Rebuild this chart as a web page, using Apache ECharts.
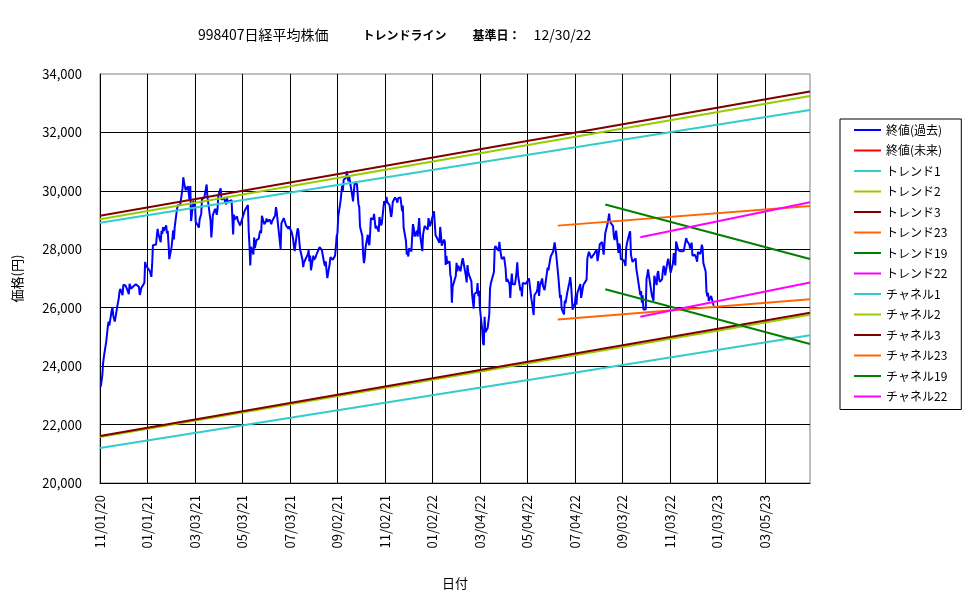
<!DOCTYPE html>
<html>
<head>
<meta charset="utf-8">
<script src="https://cdn.jsdelivr.net/npm/echarts@6/dist/echarts.min.js"></script>
<style>
html, body { margin: 0; padding: 0; background: #fff; }
#main { width: 975px; height: 599px; }
</style>
</head>
<body>
<div id="main"></div>
<script>
// 終値（過去）
var closeData = [
['2020-11-02',23295],['2020-11-04',23695],['2020-11-05',24105],['2020-11-06',24325],['2020-11-09',24839],['2020-11-10',24905],
['2020-11-11',25349],['2020-11-12',25520],['2020-11-13',25385],['2020-11-16',25906],['2020-11-17',26014],['2020-11-18',25728],
['2020-11-19',25634],['2020-11-20',25527],['2020-11-24',26165],['2020-11-25',26296],['2020-11-26',26537],['2020-11-27',26644],
['2020-11-30',26433],['2020-12-01',26787],['2020-12-02',26800],['2020-12-03',26809],['2020-12-04',26751],['2020-12-07',26547],
['2020-12-08',26467],['2020-12-09',26817],['2020-12-10',26756],['2020-12-11',26652],['2020-12-14',26732],['2020-12-15',26687],
['2020-12-16',26757],['2020-12-17',26806],['2020-12-18',26763],['2020-12-21',26714],['2020-12-22',26436],['2020-12-23',26524],
['2020-12-24',26668],['2020-12-25',26656],['2020-12-28',26854],['2020-12-29',27568],['2020-12-30',27444],
['2021-01-04',27258],['2021-01-05',27158],['2021-01-06',27056],['2021-01-07',27490],['2021-01-08',28139],['2021-01-12',28164],
['2021-01-13',28456],['2021-01-14',28698],['2021-01-15',28519],['2021-01-18',28242],['2021-01-19',28633],['2021-01-20',28523],
['2021-01-21',28756],['2021-01-22',28631],['2021-01-25',28822],['2021-01-26',28546],['2021-01-27',28635],['2021-01-28',28197],
['2021-01-29',27663],['2021-02-01',28091],['2021-02-02',28362],['2021-02-03',28646],['2021-02-04',28341],['2021-02-05',28779],
['2021-02-08',29388],['2021-02-09',29505],['2021-02-10',29562],['2021-02-12',29520],['2021-02-15',30084],['2021-02-16',30467],
['2021-02-17',30292],['2021-02-18',30236],['2021-02-19',30017],['2021-02-22',30156],['2021-02-24',29671],['2021-02-25',30168],
['2021-02-26',28966],['2021-03-01',29663],['2021-03-02',29408],['2021-03-03',29559],['2021-03-04',28930],['2021-03-05',28864],
['2021-03-08',28743],['2021-03-09',29027],['2021-03-10',29036],['2021-03-11',29211],['2021-03-12',29717],['2021-03-15',29766],
['2021-03-16',29921],['2021-03-17',29914],['2021-03-18',30216],['2021-03-19',29792],['2021-03-22',29174],['2021-03-23',28995],
['2021-03-24',28405],['2021-03-25',28729],['2021-03-26',29176],['2021-03-29',29384],['2021-03-30',29432],['2021-03-31',29178],
['2021-04-01',29388],['2021-04-02',29854],['2021-04-05',30089],['2021-04-06',29696],['2021-04-07',29730],['2021-04-08',29708],
['2021-04-09',29768],['2021-04-12',29538],['2021-04-13',29751],['2021-04-14',29620],['2021-04-15',29642],['2021-04-16',29683],
['2021-04-19',29685],['2021-04-20',29100],['2021-04-21',28508],['2021-04-22',29188],['2021-04-23',29020],['2021-04-26',29126],
['2021-04-27',28991],['2021-04-28',29053],['2021-04-30',28812],['2021-05-06',29331],['2021-05-07',29357],['2021-05-10',29518],
['2021-05-11',28608],['2021-05-12',28147],['2021-05-13',27448],['2021-05-14',28084],['2021-05-17',27824],['2021-05-18',28406],
['2021-05-19',28044],['2021-05-20',28098],['2021-05-21',28317],['2021-05-24',28364],['2021-05-25',28553],['2021-05-26',28642],
['2021-05-27',28549],['2021-05-28',29149],['2021-05-31',28860],['2021-06-01',28814],['2021-06-02',28946],['2021-06-03',29058],
['2021-06-04',28941],['2021-06-07',29019],['2021-06-08',28963],['2021-06-09',28860],['2021-06-10',28958],['2021-06-11',28948],
['2021-06-14',29161],['2021-06-15',29441],['2021-06-16',29291],['2021-06-17',29018],['2021-06-18',28964],['2021-06-21',28010],
['2021-06-22',28884],['2021-06-23',28874],['2021-06-24',28875],['2021-06-25',29066],['2021-06-28',28812],['2021-06-29',28812],
['2021-06-30',28791],['2021-07-01',28707],['2021-07-02',28783],['2021-07-05',28598],['2021-07-06',28643],['2021-07-07',28366],
['2021-07-08',28118],['2021-07-09',27940],['2021-07-12',28569],['2021-07-13',28718],['2021-07-14',28608],['2021-07-15',28279],
['2021-07-16',28003],['2021-07-19',27652],['2021-07-20',27388],['2021-07-21',27548],['2021-07-26',27833],['2021-07-27',27970],
['2021-07-28',27581],['2021-07-29',27782],['2021-07-30',27283],['2021-08-02',27781],['2021-08-03',27641],['2021-08-04',27584],
['2021-08-05',27728],['2021-08-06',27820],['2021-08-10',28070],['2021-08-11',28070],['2021-08-12',28015],['2021-08-13',27977],
['2021-08-16',27523],['2021-08-17',27424],['2021-08-18',27585],['2021-08-19',27281],['2021-08-20',27013],['2021-08-23',27494],
['2021-08-24',27732],['2021-08-25',27724],['2021-08-26',27742],['2021-08-27',27641],['2021-08-30',27789],['2021-08-31',28089],
['2021-09-01',28451],['2021-09-02',28543],['2021-09-03',29128],['2021-09-06',29659],['2021-09-07',29916],['2021-09-08',30181],
['2021-09-09',30008],['2021-09-10',30381],['2021-09-13',30447],['2021-09-14',30670],['2021-09-15',30511],['2021-09-16',30323],
['2021-09-17',30500],['2021-09-21',29839],['2021-09-22',29639],['2021-09-24',30248],['2021-09-27',30240],['2021-09-28',30183],
['2021-09-29',29544],['2021-09-30',29452],['2021-10-01',28771],['2021-10-04',28444],['2021-10-05',27822],['2021-10-06',27528],
['2021-10-07',27678],['2021-10-08',28048],['2021-10-11',28498],['2021-10-12',28230],['2021-10-13',28140],['2021-10-14',28550],
['2021-10-15',29068],['2021-10-18',29025],['2021-10-19',29215],['2021-10-20',29255],['2021-10-21',28708],['2021-10-22',28804],
['2021-10-25',28600],['2021-10-26',29106],['2021-10-27',29098],['2021-10-28',28820],['2021-10-29',28892],['2021-11-01',29647],
['2021-11-02',29520],['2021-11-04',29794],['2021-11-05',29611],['2021-11-08',29507],['2021-11-09',29285],['2021-11-10',29106],
['2021-11-11',29277],['2021-11-12',29609],['2021-11-15',29776],['2021-11-16',29808],['2021-11-17',29688],['2021-11-18',29598],
['2021-11-19',29745],['2021-11-22',29774],['2021-11-24',29302],['2021-11-25',29499],['2021-11-26',28751],['2021-11-29',28283],
['2021-11-30',27821],['2021-12-01',27935],['2021-12-02',27753],['2021-12-03',28029],['2021-12-06',27927],['2021-12-07',28455],
['2021-12-08',28860],['2021-12-09',28725],['2021-12-10',28437],['2021-12-13',28640],['2021-12-14',28432],['2021-12-15',28459],
['2021-12-16',29066],['2021-12-17',28545],['2021-12-20',27937],['2021-12-21',28517],['2021-12-22',28562],['2021-12-23',28798],
['2021-12-24',28782],['2021-12-27',28676],['2021-12-28',29069],['2021-12-29',28906],['2021-12-30',28791],
['2022-01-04',29301],['2022-01-05',29332],['2022-01-06',28487],['2022-01-07',28479],['2022-01-11',28222],['2022-01-12',28765],
['2022-01-13',28489],['2022-01-14',28124],['2022-01-17',28333],['2022-01-18',28257],['2022-01-19',27467],['2022-01-20',27772],
['2022-01-21',27522],['2022-01-24',27588],['2022-01-25',27131],['2022-01-26',27011],['2022-01-27',26170],['2022-01-28',26717],
['2022-01-31',27002],['2022-02-01',27078],['2022-02-02',27533],['2022-02-03',27241],['2022-02-04',27440],['2022-02-07',27249],
['2022-02-08',27285],['2022-02-09',27580],['2022-02-10',27696],['2022-02-14',27080],['2022-02-15',26866],['2022-02-16',27460],
['2022-02-17',27233],['2022-02-18',27122],['2022-02-21',26911],['2022-02-22',26450],['2022-02-24',25971],['2022-02-25',26476],
['2022-02-28',26527],['2022-03-01',26844],['2022-03-02',26393],['2022-03-03',26578],['2022-03-04',25985],['2022-03-07',25221],
['2022-03-08',24791],['2022-03-09',24718],['2022-03-10',25690],['2022-03-11',25163],['2022-03-14',25308],['2022-03-15',25346],
['2022-03-16',25762],['2022-03-17',26652],['2022-03-18',26827],['2022-03-22',27224],['2022-03-23',28040],['2022-03-24',28110],
['2022-03-25',28150],['2022-03-28',27943],['2022-03-29',28252],['2022-03-30',28027],['2022-03-31',27821],['2022-04-01',27666],
['2022-04-04',27736],['2022-04-05',27787],['2022-04-06',27350],['2022-04-07',26888],['2022-04-08',26985],['2022-04-11',26821],
['2022-04-12',26335],['2022-04-13',26843],['2022-04-14',27172],['2022-04-15',26799],['2022-04-18',26799],['2022-04-19',26985],
['2022-04-20',27218],['2022-04-21',27553],['2022-04-22',27105],['2022-04-25',26590],['2022-04-26',26700],['2022-04-27',26386],
['2022-04-28',26847],['2022-05-02',26818],['2022-05-06',27003],['2022-05-09',26319],['2022-05-10',26167],['2022-05-11',26213],
['2022-05-12',25748],['2022-05-13',26427],['2022-05-16',26547],['2022-05-17',26659],['2022-05-18',26911],['2022-05-19',26402],
['2022-05-20',26739],['2022-05-23',27001],['2022-05-24',26748],['2022-05-25',26677],['2022-05-26',26604],['2022-05-27',26781],
['2022-05-30',27369],['2022-05-31',27279],['2022-06-01',27457],['2022-06-02',27413],['2022-06-03',27761],['2022-06-06',27915],
['2022-06-07',27943],['2022-06-08',28234],['2022-06-09',28246],['2022-06-10',27824],['2022-06-13',26987],['2022-06-14',26629],
['2022-06-15',26326],['2022-06-16',26431],['2022-06-17',25963],['2022-06-20',25771],['2022-06-21',26246],['2022-06-22',26149],
['2022-06-23',26171],['2022-06-24',26491],['2022-06-27',26871],['2022-06-28',27049],['2022-06-29',26804],['2022-06-30',26393],
['2022-07-01',25935],['2022-07-04',26153],['2022-07-05',26423],['2022-07-06',26107],['2022-07-07',26490],['2022-07-08',26517],
['2022-07-11',26812],['2022-07-12',26336],['2022-07-13',26478],['2022-07-14',26643],['2022-07-15',26788],['2022-07-19',26961],
['2022-07-20',27680],['2022-07-21',27803],['2022-07-22',27914],['2022-07-25',27699],['2022-07-26',27655],['2022-07-27',27715],
['2022-07-28',27815],['2022-07-29',27801],['2022-08-01',27993],['2022-08-02',27594],['2022-08-03',27741],['2022-08-04',27932],
['2022-08-05',28175],['2022-08-08',28249],['2022-08-09',27999],['2022-08-10',27819],['2022-08-12',28546],['2022-08-15',28871],
['2022-08-16',28868],['2022-08-17',29222],['2022-08-18',28942],['2022-08-19',28930],['2022-08-22',28794],['2022-08-23',28452],
['2022-08-24',28313],['2022-08-25',28479],['2022-08-26',28641],['2022-08-29',27878],['2022-08-30',28195],['2022-08-31',28091],
['2022-09-01',27661],['2022-09-02',27650],['2022-09-05',27619],['2022-09-06',27626],['2022-09-07',27430],['2022-09-08',28065],
['2022-09-09',28214],['2022-09-12',28542],['2022-09-13',28614],['2022-09-14',27818],['2022-09-15',27875],['2022-09-16',27567],
['2022-09-20',27688],['2022-09-21',27313],['2022-09-22',27153],['2022-09-26',26431],['2022-09-27',26571],['2022-09-28',26173],
['2022-09-29',26422],['2022-09-30',25937],['2022-10-03',25936],['2022-10-04',26992],['2022-10-05',27120],['2022-10-06',27311],
['2022-10-07',27116],['2022-10-11',26401],['2022-10-12',26397],['2022-10-13',26237],['2022-10-14',27090],['2022-10-17',26775],
['2022-10-18',27156],['2022-10-19',27257],['2022-10-20',27006],['2022-10-21',26891],['2022-10-24',26974],['2022-10-25',27250],
['2022-10-26',27432],['2022-10-27',27345],['2022-10-28',27105],['2022-10-31',27587],['2022-11-01',27678],['2022-11-02',27663],
['2022-11-04',27199],['2022-11-07',27527],['2022-11-08',27872],['2022-11-09',27716],['2022-11-10',27446],['2022-11-11',28263],
['2022-11-14',27963],['2022-11-15',27990],['2022-11-16',28028],['2022-11-17',27930],['2022-11-18',27899],['2022-11-21',27944],
['2022-11-22',28115],['2022-11-24',28383],['2022-11-25',28283],['2022-11-28',28162],['2022-11-29',28027],['2022-11-30',27968],
['2022-12-01',28226],['2022-12-02',27777],['2022-12-05',27820],['2022-12-06',27885],['2022-12-07',27686],['2022-12-08',27574],
['2022-12-09',27901],['2022-12-12',27842],['2022-12-13',27954],['2022-12-14',28156],['2022-12-15',28051],['2022-12-16',27527],
['2022-12-19',27237],['2022-12-20',26568],['2022-12-21',26387],['2022-12-22',26507],['2022-12-23',26235],['2022-12-26',26405],
['2022-12-27',26447],['2022-12-28',26340],['2022-12-29',26093],['2022-12-30',26095]
];
// 終値（未来）: なし
var futureData = [];

// トレンドライン・チャネル（始点, 終点）
var trend1 = [['2020-11-01', 28910], ['2023-05-02', 32770]];
var trend2 = [['2020-11-01', 29030], ['2023-05-02', 33250]];
var trend3 = [['2020-11-01', 29150], ['2023-05-02', 33400]];
var trend23 = [['2022-06-12', 28810], ['2023-05-02', 29480]];
var trend19 = [['2022-08-12', 29530], ['2023-05-02', 27670]];
var trend22 = [['2022-09-26', 28410], ['2023-05-02', 29610]];
var channel1 = [['2020-11-01', 21200], ['2023-05-02', 25060]];
var channel2 = [['2020-11-01', 21570], ['2023-05-02', 25760]];
var channel3 = [['2020-11-01', 21610], ['2023-05-02', 25830]];
var channel23 = [['2022-06-12', 25600], ['2023-05-02', 26290]];
var channel19 = [['2022-08-12', 26630], ['2023-05-02', 24760]];
var channel22 = [['2022-09-26', 25690], ['2023-05-02', 26860]];

var seriesNames = ['終値(過去)', '終値(未来)', 'トレンド1', 'トレンド2', 'トレンド3', 'トレンド23', 'トレンド19', 'トレンド22',
    'チャネル1', 'チャネル2', 'チャネル3', 'チャネル23', 'チャネル19', 'チャネル22'];
var seriesData = [closeData, futureData, trend1, trend2, trend3, trend23, trend19, trend22,
    channel1, channel2, channel3, channel23, channel19, channel22];
var seriesColors = ['#0000FF', '#FF0000', '#33CCCC', '#99CC00', '#800000', '#FF6600', '#008000', '#FF00FF',
    '#33CCCC', '#99CC00', '#800000', '#FF6600', '#008000', '#FF00FF'];

// x軸: 2020-11-01 からの日数
var axisStart = '2020-11-01';
var axisEnd = '2023-05-02';
var tickDays = 61;

function dayNum(s) {
    var p = s.split('-');
    var a = axisStart.split('-');
    return (Date.UTC(+p[0], +p[1] - 1, +p[2]) - Date.UTC(+a[0], +a[1] - 1, +a[2])) / 86400000;
}
function pad(n) { return (n < 10 ? '0' : '') + n; }
function dayLabel(v) {
    var a = axisStart.split('-');
    var d = new Date(Date.UTC(+a[0], +a[1] - 1, +a[2]) + v * 86400000);
    return pad(d.getUTCMonth() + 1) + '/' + pad(d.getUTCDate()) + '/' + pad(d.getUTCFullYear() % 100);
}

var dom = document.getElementById('main');
var myChart = echarts.init(dom);
var jp = 'Noto Sans CJK JP';

var series = [];
for (var i = 0; i < seriesNames.length; i++) {
    series.push({
        name: seriesNames[i],
        type: 'line',
        symbol: 'none',
        animation: false,
        color: seriesColors[i],
        lineStyle: { width: 2, color: seriesColors[i] },
        data: seriesData[i].map(function (d) { return [dayNum(d[0]), d[1]]; })
    });
}

var option = {
    backgroundColor: '#fff',
    title: {
        text: '{a|998407日経平均株価}{b|トレンドライン}{c|基準日：}{d|12/30/22}',
        left: 193,
        top: 23,
        textStyle: {
            fontWeight: 'normal',
            rich: {
                a: { fontFamily: jp, fontSize: 14, fontWeight: 'normal', color: '#000' },
                b: { fontFamily: jp, fontSize: 12, fontWeight: 'bold', color: '#000', padding: [0, 0, 0, 34] },
                c: { fontFamily: jp, fontSize: 12, fontWeight: 'bold', color: '#000', padding: [0, 0, 0, 26] },
                d: { fontFamily: jp, fontSize: 14, fontWeight: 'normal', color: '#000', padding: [0, 0, 0, 13] }
            }
        }
    },
    legend: {
        orient: 'vertical',
        left: 840,
        top: 119,
        padding: [4, 14, 6, 14],
        icon: 'rect',
        itemWidth: 27,
        itemHeight: 2,
        itemGap: 6.5,
        itemTextGap: 2,
        borderColor: '#000',
        borderWidth: 1,
        borderRadius: 0,
        textStyle: { fontFamily: jp, fontSize: 12, lineHeight: 14, color: '#000' },
        data: seriesNames
    },
    grid: {
        left: 100,
        right: 165,
        top: 74,
        bottom: 116,
        show: true,
        borderColor: '#808080',
        borderWidth: 1
    },
    xAxis: {
        type: 'value',
        min: 0,
        max: dayNum(axisEnd),
        interval: tickDays,
        name: '日付',
        nameLocation: 'middle',
        nameGap: 94,
        nameTextStyle: { fontFamily: jp, fontSize: 13, color: '#000' },
        axisLine: { show: true, lineStyle: { color: '#000', width: 1 } },
        axisTick: { show: false },
        splitLine: { show: true, showMaxLine: false, lineStyle: { color: '#000', width: 1 } },
        axisLabel: {
            rotate: 90,
            margin: 12,
            showMaxLabel: false,
            fontFamily: jp,
            fontSize: 13,
            color: '#000',
            formatter: dayLabel
        }
    },
    yAxis: {
        type: 'value',
        min: 20000,
        max: 34000,
        interval: 2000,
        name: '価格(円)',
        nameLocation: 'middle',
        nameRotate: 90,
        nameGap: 76,
        nameTextStyle: { fontFamily: jp, fontSize: 13, color: '#000' },
        axisLine: { show: true, lineStyle: { color: '#000', width: 1 } },
        axisTick: { show: false },
        splitLine: { show: true, showMaxLine: false, lineStyle: { color: '#000', width: 1 } },
        axisLabel: {
            margin: 18,
            fontFamily: jp,
            fontSize: 13,
            color: '#000',
            formatter: function (v) { return v.toLocaleString('en-US'); }
        }
    },
    series: series
};

if (option && typeof option === 'object') {
    myChart.setOption(option, true);
}
</script>
</body>
</html>
